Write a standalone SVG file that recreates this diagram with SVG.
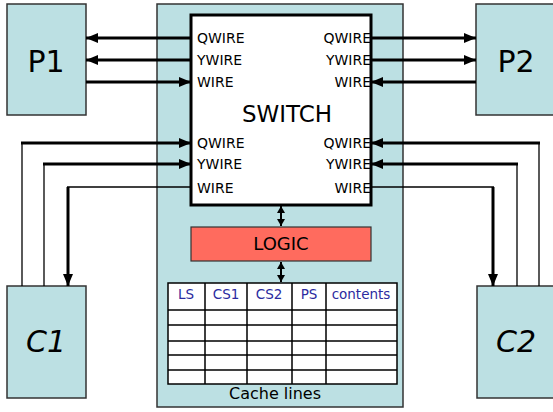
<svg xmlns="http://www.w3.org/2000/svg" width="553" height="412" viewBox="0 0 553 412">
<style>
.box{fill:#BCE0E3;stroke:#333;stroke-width:1.5}
.thick{stroke:#000;stroke-width:3;fill:none}
.thin{stroke:#000;stroke-width:1.3;fill:none}
.lbl{font-family:"DejaVu Sans",sans-serif;fill:#000}
.w{font-size:14px}
.big{font-size:30px;text-anchor:middle}
.hdr{font-family:"DejaVu Sans",sans-serif;font-size:13.5px;fill:#2b2ba0;text-anchor:middle}
.cell{fill:#fff;stroke:#000;stroke-width:1.5}
</style>
<defs>
<marker id="ah" markerUnits="userSpaceOnUse" markerWidth="13" markerHeight="11" refX="12" refY="5" orient="auto"><path d="M0,0 L12,5 L0,10 z" fill="#000"/></marker>
<marker id="sh" markerUnits="userSpaceOnUse" markerWidth="8" markerHeight="8" refX="7" refY="4" orient="auto"><path d="M0,0 L7,4 L0,8 z" fill="#000"/></marker>
<marker id="shs" markerUnits="userSpaceOnUse" markerWidth="8" markerHeight="8" refX="0" refY="4" orient="auto"><path d="M7,0 L0,4 L7,8 z" fill="#000"/></marker>
</defs>
<g id="cache">
<rect class="box" x="157" y="4" width="246" height="403"/>
</g>
<g id="P1"><rect class="box" x="7" y="4" width="79" height="111"/><text class="lbl big" x="46" y="72">P1</text></g>
<g id="P2"><rect class="box" x="476" y="4" width="80" height="111"/><text class="lbl big" x="516" y="72">P2</text></g>
<g id="C1"><rect class="box" x="7" y="286" width="79" height="112"/><text class="lbl big" x="46" y="352" font-style="italic">C1</text></g>
<g id="C2"><rect class="box" x="477" y="286" width="80" height="112"/><text class="lbl big" x="516" y="352" font-style="italic">C2</text></g>
<g id="switch">
<rect x="191" y="15" width="180" height="190" fill="#fff" stroke="#000" stroke-width="3"/>
<text class="lbl w" x="197" y="43">QWIRE</text>
<text class="lbl w" x="197" y="65">YWIRE</text>
<text class="lbl w" x="197" y="87">WIRE</text>
<text class="lbl w" x="197" y="148">QWIRE</text>
<text class="lbl w" x="197" y="169">YWIRE</text>
<text class="lbl w" x="197" y="193">WIRE</text>
<text class="lbl w" x="371" y="43" text-anchor="end">QWIRE</text>
<text class="lbl w" x="371" y="65" text-anchor="end">YWIRE</text>
<text class="lbl w" x="371" y="87" text-anchor="end">WIRE</text>
<text class="lbl w" x="371" y="148" text-anchor="end">QWIRE</text>
<text class="lbl w" x="371" y="169" text-anchor="end">YWIRE</text>
<text class="lbl w" x="371" y="193" text-anchor="end">WIRE</text>
<text class="lbl" x="287" y="122" font-size="23" text-anchor="middle">SWITCH</text>
</g>
<g id="logic">
<rect x="191" y="227" width="180" height="34" fill="#FF6B5E" stroke="#333" stroke-width="1.2"/>
<text class="lbl" x="281" y="250" font-size="18" text-anchor="middle">LOGIC</text>
</g>
<g id="table">
<rect class="cell" x="168" y="283" width="229" height="101"/>
<path d="M168,310H397M168,325H397M168,341H397M168,355H397M168,370H397M205,283V384M247,283V384M292,283V384M326,283V384" stroke="#000" stroke-width="1.5" fill="none"/>
<text class="hdr" x="186" y="299">LS</text>
<text class="hdr" x="226" y="299">CS1</text>
<text class="hdr" x="269" y="299">CS2</text>
<text class="hdr" x="309" y="299">PS</text>
<text class="hdr" x="361" y="299">contents</text>
<text class="lbl" x="275" y="399" font-size="16" text-anchor="middle">Cache lines</text>
</g>
<g id="connectors">
<line class="thick" x1="191" y1="38" x2="86" y2="38" marker-end="url(#ah)"/>
<line class="thick" x1="191" y1="60" x2="86" y2="60" marker-end="url(#ah)"/>
<line class="thick" x1="86" y1="82" x2="191" y2="82" marker-end="url(#ah)"/>
<line class="thick" x1="371" y1="38" x2="476" y2="38" marker-end="url(#ah)"/>
<line class="thick" x1="371" y1="60" x2="476" y2="60" marker-end="url(#ah)"/>
<line class="thick" x1="476" y1="82" x2="371" y2="82" marker-end="url(#ah)"/>
<line class="thin" x1="22" y1="286" x2="22" y2="143"/>
<line class="thick" x1="21" y1="143" x2="191" y2="143" marker-end="url(#ah)"/>
<line class="thin" x1="44" y1="286" x2="44" y2="164"/>
<line class="thick" x1="43" y1="164" x2="191" y2="164" marker-end="url(#ah)"/>
<line class="thin" x1="191" y1="187" x2="67" y2="187"/>
<line class="thick" x1="68" y1="187" x2="68" y2="286" marker-end="url(#ah)"/>
<line class="thin" x1="539" y1="286" x2="539" y2="143"/>
<line class="thick" x1="540" y1="143" x2="371" y2="143" marker-end="url(#ah)"/>
<line class="thin" x1="517" y1="286" x2="517" y2="164"/>
<line class="thick" x1="518" y1="164" x2="371" y2="164" marker-end="url(#ah)"/>
<line class="thin" x1="371" y1="187" x2="494" y2="187"/>
<line class="thick" x1="493" y1="187" x2="493" y2="286" marker-end="url(#ah)"/>
<line stroke="#000" stroke-width="2" x1="281" y1="206" x2="281" y2="226" marker-start="url(#shs)" marker-end="url(#sh)"/>
<line stroke="#000" stroke-width="2" x1="281" y1="262" x2="281" y2="282" marker-start="url(#shs)" marker-end="url(#sh)"/>
</g>
</svg>
